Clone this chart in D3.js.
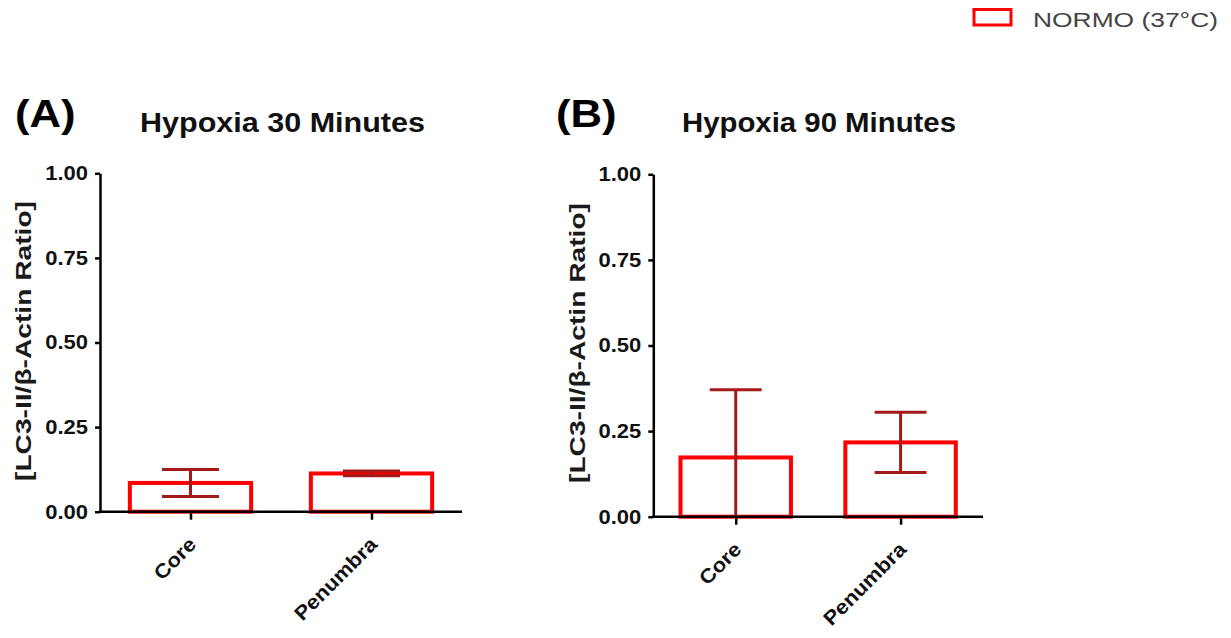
<!DOCTYPE html>
<html>
<head>
<meta charset="utf-8">
<script src="https://cdnjs.cloudflare.com/ajax/libs/d3/7.8.5/d3.min.js"></script>
<style>
body { margin: 0; background: #fff; }
text { font-family: "Liberation Sans", Arial, sans-serif; }
</style>
</head>
<body>
<div class="chart"></div>
<script>
var categories = ["Core", "Penumbra"];
var means30 = [0.085, 0.113];
var errors30 = [0.040, 0.007];
var means90 = [0.173, 0.217];
var errors90 = [0.198, 0.088];
var yTicks = [0, 0.25, 0.5, 0.75, 1.0];
var panelLetters = ["(A)", "(B)"];
var panelTitles = ["Hypoxia 30 Minutes", "Hypoxia 90 Minutes"];
var yTitle = "[LC3-II/\u03b2-Actin Ratio]";
var legendLabel = "NORMO (37\u00b0C)";

var barColor = "#ff0000";
var errColor = "#a31a1a";

var svg = d3.select(".chart")
    .append("svg")
    .attr("width", 1231)
    .attr("height", 638);

// layout of the two panels (pixels)
var panels = [
    { means: means30, errors: errors30, left: 100, right: 462, top: 173.3, bottom: 511.7,
      letterX: 15, titleX: 282.5, titleW: 285, labelX: 23, labelY: 341 },
    { means: means90, errors: errors90, left: 653.3, right: 983, top: 174.3, bottom: 516.7,
      letterX: 556, titleX: 819, titleW: 274, labelX: 577.5, labelY: 343 }
];

// the source picture is widened a little, so text is stretched to match
function stretch(sel, k) {
    sel.each(function() {
        var w = this.getComputedTextLength();
        d3.select(this).attr("textLength", w * k).attr("lengthAdjust", "spacingAndGlyphs");
    });
}

panels.forEach(function(p, i) {
    var x = d3.scalePoint().domain(categories).range([p.left, p.right]).padding(0.5);
    var y = d3.scaleLinear().domain([0, 1]).range([p.bottom, p.top]);
    var barW = x.step() * 0.67;
    var capW = barW * 0.47;

    var rows = categories.map(function(c, j) {
        return { cat: c, mean: p.means[j], err: p.errors[j] };
    });

    var g = svg.append("g");

    // open bars
    g.selectAll("rect.bar")
        .data(rows)
        .enter()
        .append("rect")
        .attr("class", "bar")
        .attr("x", function(d) { return x(d.cat) - barW / 2; })
        .attr("y", function(d) { return y(d.mean); })
        .attr("width", barW)
        .attr("height", function(d) { return y(0) - y(d.mean); })
        .attr("fill", "none")
        .attr("stroke", barColor)
        .attr("stroke-width", 4);

    // error bars
    var eb = g.selectAll("g.err")
        .data(rows)
        .enter()
        .append("g")
        .attr("class", "err")
        .attr("stroke", errColor)
        .attr("stroke-width", 3);

    eb.append("line")
        .attr("x1", function(d) { return x(d.cat); })
        .attr("x2", function(d) { return x(d.cat); })
        .attr("y1", function(d) { return y(d.mean + d.err); })
        .attr("y2", function(d) { return y(Math.max(0, d.mean - d.err)); });

    eb.append("line")
        .attr("x1", function(d) { return x(d.cat) - capW / 2; })
        .attr("x2", function(d) { return x(d.cat) + capW / 2; })
        .attr("y1", function(d) { return y(d.mean + d.err); })
        .attr("y2", function(d) { return y(d.mean + d.err); });

    eb.filter(function(d) { return d.mean - d.err >= 0; })
        .append("line")
        .attr("x1", function(d) { return x(d.cat) - capW / 2; })
        .attr("x2", function(d) { return x(d.cat) + capW / 2; })
        .attr("y1", function(d) { return y(d.mean - d.err); })
        .attr("y2", function(d) { return y(d.mean - d.err); });

    // axes
    var leftAxis = d3.axisLeft(y)
        .tickValues(yTicks)
        .tickFormat(d3.format(".2f"))
        .tickSize(5)
        .tickSizeOuter(0)
        .tickPadding(7);

    var bottomAxis = d3.axisBottom(x)
        .tickSize(8)
        .tickSizeOuter(0)
        .tickFormat("");

    var ya = g.append("g")
        .attr("transform", "translate(" + p.left + ",0)")
        .call(leftAxis);

    var xa = g.append("g")
        .attr("transform", "translate(0," + p.bottom + ")")
        .call(bottomAxis);

    xa.select(".domain").attr("d", "M" + (p.left - 1) + ",0H" + p.right);

    [ya, xa].forEach(function(a) {
        a.selectAll(".domain, .tick line").attr("stroke", "#000").attr("stroke-width", 2.5);
    });

    ya.selectAll(".tick text")
        .attr("fill", "#111")
        .style("font-size", "20px")
        .style("font-weight", "bold")
        .call(stretch, 1.1);

    // slanted category labels
    g.selectAll("text.cat")
        .data(categories)
        .enter()
        .append("text")
        .attr("class", "cat")
        .attr("transform", function(d) {
            return "translate(" + (x(d) + 7) + "," + (p.bottom + 34) + ") rotate(-45)";
        })
        .attr("text-anchor", "end")
        .attr("fill", "#111")
        .style("font-size", "20px")
        .style("font-weight", "bold")
        .text(function(d) { return d; })
        .call(stretch, 1.1);

    // y axis title
    svg.append("text")
        .attr("transform", "translate(" + p.labelX + "," + p.labelY + ") rotate(-90)")
        .attr("text-anchor", "middle")
        .attr("dy", "0.35em")
        .attr("fill", "#1a1a1a")
        .style("font-size", "22px")
        .style("font-weight", "bold")
        .attr("textLength", 280)
        .attr("lengthAdjust", "spacingAndGlyphs")
        .text(yTitle);

    // panel title
    svg.append("text")
        .attr("x", p.titleX)
        .attr("y", 132)
        .attr("text-anchor", "middle")
        .attr("fill", "#111")
        .style("font-size", "27px")
        .style("font-weight", "bold")
        .attr("textLength", p.titleW)
        .attr("lengthAdjust", "spacingAndGlyphs")
        .text(panelTitles[i]);

    // panel letter
    svg.append("text")
        .attr("x", p.letterX)
        .attr("y", 127)
        .attr("fill", "#000")
        .style("font-size", "39px")
        .style("font-weight", "bold")
        .text(panelLetters[i])
        .call(stretch, 1.12);
});

// legend
var legend = svg.append("g");
legend.append("rect")
    .attr("x", 974)
    .attr("y", 9.5)
    .attr("width", 37)
    .attr("height", 15.5)
    .attr("fill", "none")
    .attr("stroke", barColor)
    .attr("stroke-width", 3);
legend.append("text")
    .attr("x", 1033)
    .attr("y", 26.5)
    .attr("fill", "#444")
    .style("font-size", "21px")
    .attr("textLength", 185)
    .attr("lengthAdjust", "spacingAndGlyphs")
    .text(legendLabel);
</script>
</body>
</html>
